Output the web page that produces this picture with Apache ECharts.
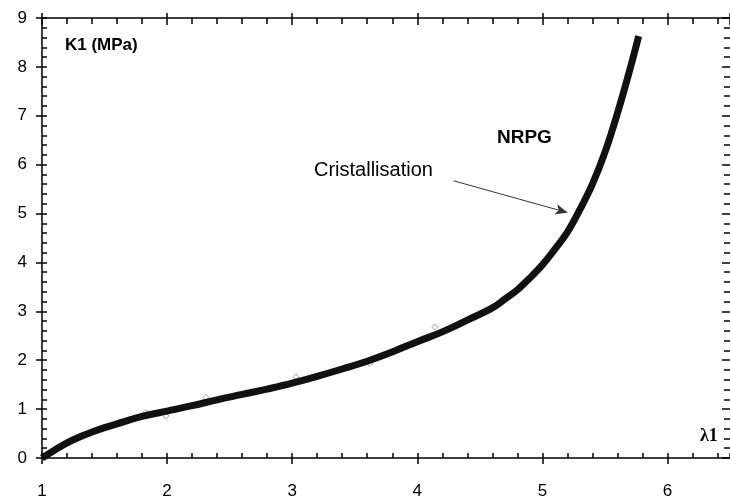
<!DOCTYPE html>
<html>
<head>
<meta charset="utf-8">
<script src="https://cdn.jsdelivr.net/npm/echarts@6/dist/echarts.min.js"></script>
<style>
  html, body { margin: 0; padding: 0; background: #fff; }
  #container { width: 730px; height: 500px; }
</style>
</head>
<body>
<div id="container"></div>
<script>
// lambda1 / K1 (MPa)
const lambda1 = [1.0, 1.1, 1.2, 1.3, 1.4, 1.5, 1.6, 1.8, 2.0, 2.2, 2.4, 2.6, 2.8, 3.0, 3.2, 3.4, 3.6, 3.8, 4.0, 4.2, 4.4, 4.6, 4.7, 4.8, 4.9, 5.0, 5.1, 5.2, 5.3, 5.4, 5.5, 5.6, 5.7, 5.77]
const k1 = [0, 0.16, 0.31, 0.43, 0.53, 0.62, 0.70, 0.85, 0.96, 1.07, 1.19, 1.30, 1.41, 1.53, 1.67, 1.82, 1.98, 2.17, 2.38, 2.58, 2.82, 3.07, 3.25, 3.44, 3.68, 3.95, 4.27, 4.62, 5.08, 5.6, 6.25, 7.05, 7.95, 8.63]

// stray points a bit off the curve
const strayX = [1.83, 1.99, 2.31, 3.03, 3.62, 4.14, 5.12]
const strayY = [0.93, 0.86, 1.24, 1.66, 1.93, 2.68, 4.37]

const arrowFrom = [4.29, 5.67]
const arrowTo = [5.2, 5.02]

const xTicks = [1, 2, 3, 4, 5, 6]

const font = '"Liberation Sans", Arial, sans-serif'

let curve = lambda1.map((x, i) => [x, k1[i]])
let stray = strayX.map((x, i) => [x, strayY[i]])

let chart = echarts.init(document.getElementById('container'))

const xBase = { type: 'value', min: 1, max: 6.5, interval: 1, splitLine: { show: false } }
const yBase = { type: 'value', min: 0, max: 9, interval: 1, splitLine: { show: false } }
const black = '#000'

chart.setOption({
    backgroundColor: '#fff',
    animation: false,
    grid: { left: 42, top: 18, width: 691, height: 441, containLabel: false },
    xAxis: [{
        ...xBase,
        position: 'bottom',
        axisLine: { onZero: false, lineStyle: { color: black, width: 1.5 } },
        axisTick: { inside: false, length: 6, lineStyle: { color: black, width: 1.5 } },
        axisLabel: {
            margin: 25, color: black, fontSize: 17, fontFamily: font,
            showMaxLabel: false,
            formatter: v => xTicks.includes(v) ? String(v) : ''
        }
    }, {
        ...xBase,
        position: 'bottom',
        axisLine: { show: false, onZero: false },
        axisTick: { inside: true, length: 5, lineStyle: { color: black, width: 1.5 } },
        minorTick: { show: true, splitNumber: 5, length: 5, lineStyle: { color: black, width: 1.5 } },
        axisLabel: { show: false }
    }, {
        ...xBase,
        position: 'top',
        axisLine: { onZero: false, lineStyle: { color: black, width: 1.5 } },
        axisTick: { inside: true, length: 7, lineStyle: { color: black, width: 1.5 } },
        minorTick: { show: true, splitNumber: 5, length: 6, lineStyle: { color: black, width: 1.5 } },
        axisLabel: { show: false }
    }, {
        ...xBase,
        position: 'top',
        axisLine: { show: false, onZero: false },
        axisTick: { inside: false, length: 5, lineStyle: { color: black, width: 1.5 } },
        axisLabel: { show: false }
    }],
    yAxis: [{
        ...yBase,
        position: 'left',
        axisLine: { show: true, onZero: false, lineStyle: { color: black, width: 1.5 } },
        axisTick: { show: true, inside: false, length: 6, lineStyle: { color: black, width: 1.5 } },
        axisLabel: { margin: 15, color: black, fontSize: 17, fontFamily: font }
    }, {
        ...yBase,
        position: 'left',
        axisLine: { show: false, onZero: false },
        axisTick: { show: true, inside: true, length: 5, lineStyle: { color: black, width: 1.5 } },
        minorTick: { show: true, splitNumber: 5, length: 5, lineStyle: { color: black, width: 1.5 } },
        axisLabel: { show: false }
    }, {
        ...yBase,
        position: 'right',
        axisLine: { show: false, onZero: false },
        axisTick: { show: true, inside: true, length: 8, lineStyle: { color: black, width: 1.5 } },
        minorTick: { show: true, splitNumber: 5, length: 6, lineStyle: { color: black, width: 1.5 } },
        axisLabel: { show: false }
    }],
    series: [{
        name: 'NRPG',
        type: 'line',
        xAxisIndex: 0,
        yAxisIndex: 0,
        smooth: 0.4,
        showSymbol: false,
        lineStyle: { color: '#111', width: 7 },
        data: curve,
        markLine: {
            silent: true,
            symbol: ['none', 'arrow'],
            symbolSize: [8, 12],
            label: { show: false },
            lineStyle: { color: '#333', width: 1, type: 'solid' },
            data: [[{ coord: arrowFrom }, { coord: arrowTo }]]
        }
    }, {
        name: 'stray',
        type: 'scatter',
        xAxisIndex: 0,
        yAxisIndex: 0,
        symbol: 'diamond',
        symbolSize: 6,
        itemStyle: { color: '#fff', borderColor: '#888', borderWidth: 1 },
        data: stray
    }],
    graphic: [{
        type: 'text', left: 65, top: 37,
        style: { text: 'K1 (MPa)', font: 'bold 17px ' + font, fill: black }
    }, {
        type: 'text', left: 497, top: 128,
        style: { text: 'NRPG', font: 'bold 19px ' + font, fill: black }
    }, {
        type: 'text', left: 314, top: 160,
        style: { text: 'Cristallisation', font: '20px ' + font, fill: black }
    }, {
        type: 'text', left: 700, top: 427,
        style: { text: 'λ1', font: 'bold 18px "Liberation Serif", "DejaVu Serif", serif', fill: black }
    }]
})
</script>
</body>
</html>
